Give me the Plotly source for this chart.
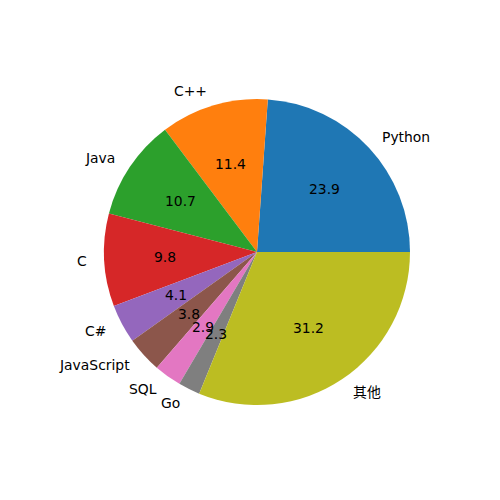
import math
import plotly.graph_objects as go

labels = ["Python", "C++", "Java", "C", "C#", "JavaScript", "SQL", "Go", "其他"]
values = [23.9, 11.4, 10.7, 9.8, 4.1, 3.8, 2.9, 2.3, 31.2]
colors = ["#1f77b4", "#ff7f0e", "#2ca02c", "#d62728", "#9467bd",
          "#8c564b", "#e377c2", "#7f7f7f", "#bcbd22"]

W = H = 500
cx, cy, r = 257, 252, 153  # pixel center and radius
dom_x = [(cx - r) / W, (cx + r) / W]
dom_y = [1 - (cy + r) / H, 1 - (cy - r) / H]

total = sum(values)
# In counterclockwise mode plotly's rotation marks the end of the first slice;
# make the first slice start at 3 o'clock like matplotlib's default.
rot = 90 - 360 * values[0] / total

fig = go.Figure(go.Pie(
    labels=labels, values=values, sort=False,
    direction="counterclockwise", rotation=rot,
    marker=dict(colors=colors, line=dict(width=0)),
    textinfo="none", hoverinfo="label+value",
    domain=dict(x=dom_x, y=dom_y), showlegend=False,
))

annotations = []
cum = 0.0
font = dict(family="DejaVu Sans, Noto Sans CJK SC", size=13.9, color="black")
for lab, v in zip(labels, values):
    mid = 2 * math.pi * (cum + v / 2) / total
    cum += v
    c, s = math.cos(mid), math.sin(mid)
    lx = (cx + 1.1 * r * c) / W
    ly = 1 - (cy - 1.1 * r * s) / H
    annotations.append(dict(x=lx, y=ly, xref="paper", yref="paper", text=lab,
                            showarrow=False, xanchor="left" if c > 0 else "right",
                            yanchor="middle", font=font))
    px = (cx + 0.6 * r * c) / W
    py = 1 - (cy - 0.6 * r * s) / H
    annotations.append(dict(x=px, y=py, xref="paper", yref="paper", text=f"{v:.1f}",
                            showarrow=False, xanchor="center", yanchor="middle",
                            font=font))

fig.update_layout(width=W, height=H, margin=dict(l=0, r=0, t=0, b=0),
                  paper_bgcolor="white", plot_bgcolor="white",
                  annotations=annotations)
fig.write_html("out.html")
